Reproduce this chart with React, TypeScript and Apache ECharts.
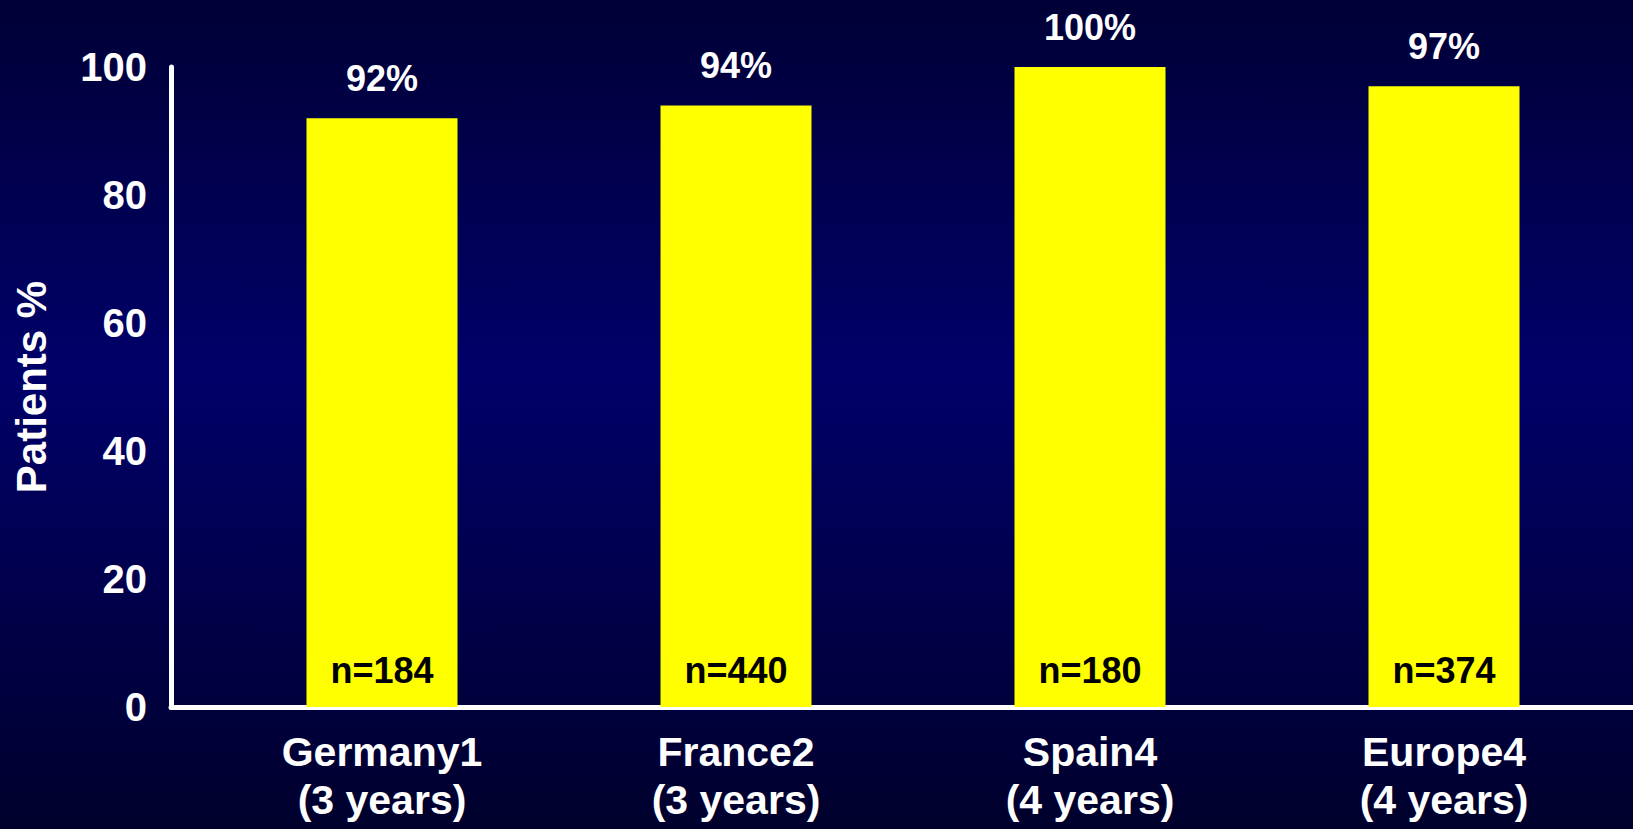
import React, { useEffect, useRef } from "react";
import * as echarts from "echarts";

// Share of patients per study cohort
const categories = ["Germany1", "France2", "Spain4", "Europe4"];
const periods = ["(3 years)", "(3 years)", "(4 years)", "(4 years)"];
const percentValues = [92, 94, 100, 97];
const sampleSizes = [184, 440, 180, 374];
const yTicks = { min: 0, max: 100, interval: 20 };

const FONT = "'Liberation Sans', Arial, Helvetica, sans-serif";
const WHITE = "#ffffff";

export default function App() {
  const ref = useRef<HTMLDivElement>(null);

  useEffect(() => {
    document.body.style.margin = "0";
    document.body.style.overflow = "hidden";
    if (!ref.current) return;
    const chart = echarts.init(ref.current, undefined, { renderer: "svg" });

    const axisLineStyle = { color: WHITE, width: 5 };

    chart.setOption({
      animation: false,
      backgroundColor: new echarts.graphic.LinearGradient(0, 0, 0, 1, [
        { offset: 0, color: "#000036" },
        { offset: 0.45, color: "#000069" },
        { offset: 1, color: "#00002c" },
      ]),
      grid: [
        // frame grid: carries the axis lines and the y tick labels
        { left: 171, right: 0, top: 67, bottom: 122, outerBoundsMode: "none", containLabel: false },
        // bar grid
        { left: 205, right: 12, top: 67, bottom: 122, outerBoundsMode: "none", containLabel: false },
      ],
      xAxis: [
        {
          type: "category",
          gridIndex: 0,
          data: categories,
          axisLine: { show: true, lineStyle: axisLineStyle },
          axisTick: { show: false },
          axisLabel: { show: false },
        },
        {
          type: "category",
          gridIndex: 1,
          data: categories,
          axisLine: { show: false },
          axisTick: { show: false },
          axisLabel: {
            color: WHITE,
            fontFamily: FONT,
            fontWeight: "bold",
            fontSize: 41,
            lineHeight: 48,
            margin: 21,
            interval: 0,
            formatter: (v: string, i: number) => `${v}\n${periods[i]}`,
          },
        },
      ],
      yAxis: [
        {
          type: "value",
          gridIndex: 0,
          min: yTicks.min,
          max: yTicks.max,
          interval: yTicks.interval,
          name: "Patients %",
          nameLocation: "middle",
          nameRotate: 90,
          nameGap: 119,
          nameTextStyle: {
            color: WHITE,
            fontFamily: FONT,
            fontWeight: "bold",
            fontSize: 42,
          },
          axisLine: { show: true, lineStyle: axisLineStyle },
          axisTick: { show: false },
          splitLine: { show: false },
          axisLabel: {
            color: WHITE,
            fontFamily: FONT,
            fontWeight: "bold",
            fontSize: 40,
            margin: 24,
            padding: [18, 0, 0, 0],
          },
        },
        {
          type: "value",
          gridIndex: 1,
          min: yTicks.min,
          max: yTicks.max,
          interval: yTicks.interval,
          show: false,
        },
      ],
      series: [
        {
          type: "bar",
          xAxisIndex: 1,
          yAxisIndex: 1,
          data: percentValues,
          barWidth: 151,
          itemStyle: { color: "#ffff00" },
          label: {
            show: true,
            position: "top",
            distance: 22,
            color: WHITE,
            fontFamily: FONT,
            fontWeight: "bold",
            fontSize: 36,
            formatter: (p: any) => `${p.value}%`,
          },
        },
        {
          // sample size written at the foot of each bar
          type: "bar",
          xAxisIndex: 1,
          yAxisIndex: 1,
          data: percentValues,
          barWidth: 151,
          barGap: "-100%",
          itemStyle: { color: "rgba(0,0,0,0)" },
          label: {
            show: true,
            position: "insideBottom",
            distance: 19,
            color: "#000000",
            fontFamily: FONT,
            fontWeight: "bold",
            fontSize: 36,
            formatter: (p: any) => `n=${sampleSizes[p.dataIndex]}`,
          },
        },
      ],
    });

    return () => chart.dispose();
  }, []);

  return <div ref={ref} style={{ width: 1633, height: 829 }} />;
}
